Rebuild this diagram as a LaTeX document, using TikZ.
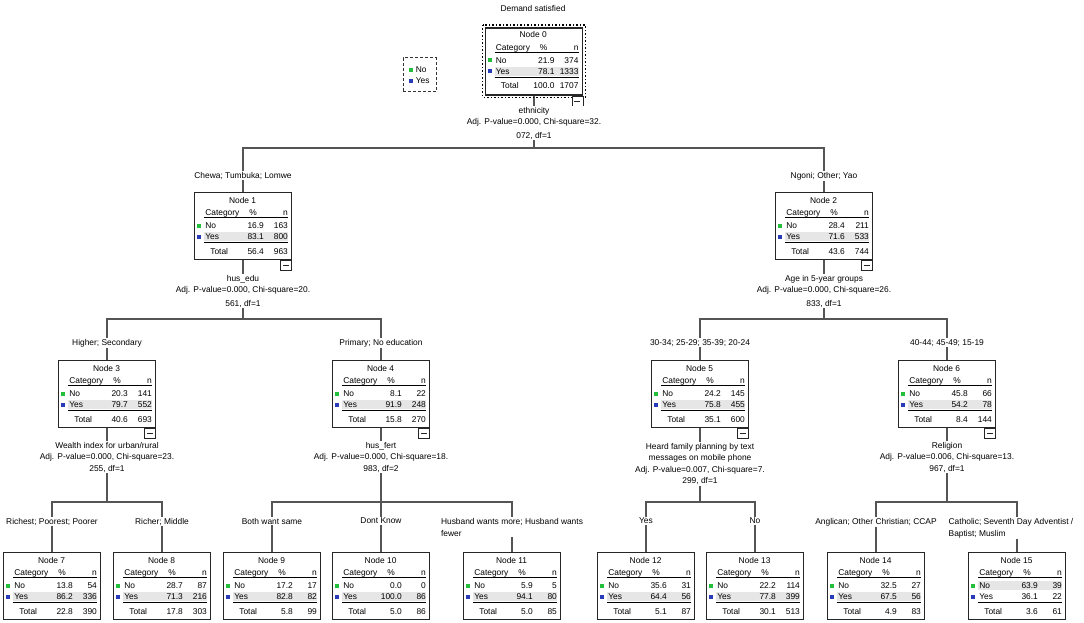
\documentclass[tikz,border=0pt]{standalone}
\usepackage{fontspec}
\setmainfont{Liberation Sans}
\usetikzlibrary{positioning}

\definecolor{catno}{RGB}{34,190,60}
\definecolor{catyes}{RGB}{40,60,185}
\definecolor{rowgray}{RGB}{230,230,230}
\definecolor{wiregray}{RGB}{85,85,85}

\pgfdeclarelayer{back}
\pgfsetlayers{back,main}

\def\hlno{29}
\def\hlyes{40}

\newcommand{\boxbody}[9]{%
  \begin{scope}[shift={(#1.north west)}]
    \fill[rowgray] (10,\csname hl#9\endcsname) rectangle ++(84,9);
    \node[cell] (#1-title) at (48.5,8) {Node #2};
    \node[cell, anchor=west] (#1-hc) at (11,20.5) {Category};
    \node[cell] (#1-hp) at (59,20.5) {\%};
    \node[cell, anchor=east] (#1-hn) at (94,20.5) {n};
    \draw[line width=0.8pt] (10,25.5) -- (94,25.5);
    \fill[catno] (3,31.5) rectangle ++(4,4);
    \node[cell, anchor=west] (#1-no) at (11,33.5) {No};
    \node[cell, anchor=east] (#1-nop) at (70,33.5) {#3};
    \node[cell, anchor=east] (#1-non) at (94,33.5) {#4};
    \fill[catyes] (3,42.5) rectangle ++(4,4);
    \node[cell, anchor=west] (#1-yes) at (11,44.5) {Yes};
    \node[cell, anchor=east] (#1-yesp) at (70,44.5) {#5};
    \node[cell, anchor=east] (#1-yesn) at (94,44.5) {#6};
    \draw[line width=1.5pt] (10,50.5) -- (94,50.5);
    \node[cell, anchor=west] (#1-tot) at (16,59) {Total};
    \node[cell, anchor=east] (#1-totp) at (70,59) {#7};
    \node[cell, anchor=east] (#1-totn) at (94,59) {#8};
  \end{scope}}

\newcommand{\collapse}[1]{\node[minus, anchor=north east] (#1m) at (#1.south east) {};}

\begin{document}
\begin{tikzpicture}
  [x=1pt, y=-1pt,
   font=\fontsize{8.4}{11.5}\selectfont,
   catbox/.style={draw=black!85, line width=0.8pt, fill=white, anchor=north,
     minimum width=97pt, minimum height=67pt, inner sep=0pt},
   cell/.style={inner sep=0pt, text height=6pt, text depth=0pt},
   minus/.style={draw=black!85, line width=0.8pt, fill=white, minimum width=11pt,
     minimum height=10pt, inner sep=0pt,
     path picture={\draw[line width=0.8pt] ([xshift=2.5pt]path picture bounding box.west)
       -- ([xshift=-2.5pt]path picture bounding box.east);}},
   split/.style={fill=white, inner sep=1pt, align=center, anchor=north},
   branch/.style={fill=white, inner sep=1pt, anchor=north},
   wire/.style={draw=wiregray, line width=1.3pt}]
  \useasboundingbox (0,0) rectangle (1084,623);

  \node (title) at (533,8) {Demand satisfied};
  \node[draw=black!80, line width=1pt, dash pattern=on 3pt off 2pt, minimum width=33pt,
    minimum height=34pt, inner sep=0pt, align=left, font=\fontsize{8.4}{11}\selectfont] (key) at (419.5,75)
    {\textcolor{catno}{\rule{4pt}{4pt}} No\\\textcolor{catyes}{\rule{4pt}{4pt}} Yes};

  \node[catbox, line width=1.6pt] (n0) at (534,27) {};
  \draw[dotted, line width=1.5pt] ([shift={(-2,-2)}]n0.north west) rectangle ([shift={(2,2)}]n0.south east);
  \boxbody{n0}{0}{21.9}{374}{78.1}{1333}{100.0}{1707}{yes}
  \collapse{n0}

  \node[catbox] (n1) at (243,192) {};
  \boxbody{n1}{1}{16.9}{163}{83.1}{800}{56.4}{963}{yes}
  \collapse{n1}
  \node[catbox] (n2) at (824,192) {};
  \boxbody{n2}{2}{28.4}{211}{71.6}{533}{43.6}{744}{yes}
  \collapse{n2}

  \node[catbox] (n3) at (107,360) {};
  \boxbody{n3}{3}{20.3}{141}{79.7}{552}{40.6}{693}{yes}
  \collapse{n3}
  \node[catbox] (n4) at (381,360) {};
  \boxbody{n4}{4}{8.1}{22}{91.9}{248}{15.8}{270}{yes}
  \collapse{n4}
  \node[catbox] (n5) at (700,360) {};
  \boxbody{n5}{5}{24.2}{145}{75.8}{455}{35.1}{600}{yes}
  \collapse{n5}
  \node[catbox] (n6) at (947,360) {};
  \boxbody{n6}{6}{45.8}{66}{54.2}{78}{8.4}{144}{yes}
  \collapse{n6}

  \node[catbox] (n7) at (52,552) {};
  \boxbody{n7}{7}{13.8}{54}{86.2}{336}{22.8}{390}{yes}
  \node[catbox] (n8) at (162,552) {};
  \boxbody{n8}{8}{28.7}{87}{71.3}{216}{17.8}{303}{yes}
  \node[catbox] (n9) at (272,552) {};
  \boxbody{n9}{9}{17.2}{17}{82.8}{82}{5.8}{99}{yes}
  \node[catbox] (n10) at (381,552) {};
  \boxbody{n10}{10}{0.0}{0}{100.0}{86}{5.0}{86}{yes}
  \node[catbox] (n11) at (512,552) {};
  \boxbody{n11}{11}{5.9}{5}{94.1}{80}{5.0}{85}{yes}
  \node[catbox] (n12) at (646,552) {};
  \boxbody{n12}{12}{35.6}{31}{64.4}{56}{5.1}{87}{yes}
  \node[catbox] (n13) at (755,552) {};
  \boxbody{n13}{13}{22.2}{114}{77.8}{399}{30.1}{513}{yes}
  \node[catbox] (n14) at (876,552) {};
  \boxbody{n14}{14}{32.5}{27}{67.5}{56}{4.9}{83}{yes}
  \node[catbox] (n15) at (1017,552) {};
  \boxbody{n15}{15}{63.9}{39}{36.1}{22}{3.6}{61}{no}

  \node[split] (s0) at (534,106) {ethnicity\\Adj. P-value=0.000, Chi-square=32.\\[2pt]072, df=1};
  \node[split] (s1) at (243,274) {hus\_edu\\Adj. P-value=0.000, Chi-square=20.\\[2pt]561, df=1};
  \node[split] (s2) at (824,274) {Age in 5-year groups\\Adj. P-value=0.000, Chi-square=26.\\[2pt]833, df=1};
  \node[split] (s3) at (107,441) {Wealth index for urban/rural\\Adj. P-value=0.000, Chi-square=23.\\255, df=1};
  \node[split] (s4) at (381,441) {hus\_fert\\Adj. P-value=0.000, Chi-square=18.\\983, df=2};
  \node[split] (s5) at (700,442) {Heard family planning by text\\messages on mobile phone\\Adj. P-value=0.007, Chi-square=7.\\299, df=1};
  \node[split] (s6) at (947,441) {Religion\\Adj. P-value=0.006, Chi-square=13.\\967, df=1};

  \node[branch] (b1) at (243,171) {Chewa; Tumbuka; Lomwe};
  \node[branch] (b2) at (824,171) {Ngoni; Other; Yao};
  \node[branch] (b3) at (107,338) {Higher; Secondary};
  \node[branch] (b4) at (381,338) {Primary; No education};
  \node[branch] (b5) at (700,338) {30-34; 25-29; 35-39; 20-24};
  \node[branch] (b6) at (947,338) {40-44; 45-49; 15-19};
  \node[branch] (b7) at (52,517) {Richest; Poorest; Poorer};
  \node[branch] (b8) at (162,517) {Richer; Middle};
  \node[branch] (b9) at (272,517) {Both want same};
  \node[branch] (b10) at (381,517) {Dont Know};
  \node[branch, align=left, font=\fontsize{8.4}{12}\selectfont] (b11) at (512,517) {Husband wants more; Husband wants\\fewer};
  \node[branch] (b12) at (646,517) {Yes};
  \node[branch] (b13) at (755,517) {No};
  \node[branch] (b14) at (876,517) {Anglican; Other Christian; CCAP};
  \node[branch, align=left, font=\fontsize{8.4}{12}\selectfont] (b15) at (1011,517) {Catholic; Seventh Day Adventist /\\Baptist; Muslim};

  \coordinate (j0) at (534,148);
  \coordinate (j1) at (243,319);
  \coordinate (j2) at (824,319);
  \coordinate (j3) at (107,502);
  \coordinate (j4) at (381,502);
  \coordinate (j5) at (700,502);
  \coordinate (j6) at (947,502);

  \begin{pgfonlayer}{back}
    \draw[wire] (n0) -- (j0) -| (n1);
    \draw[wire] (j0) -| (n2);
    \draw[wire] (n1) -- (j1) -| (n3);
    \draw[wire] (j1) -| (n4);
    \draw[wire] (n2) -- (j2) -| (n5);
    \draw[wire] (j2) -| (n6);
    \draw[wire] (n3) -- (j3) -| (n7);
    \draw[wire] (j3) -| (n8);
    \draw[wire] (n4) -- (j4) -| (n9);
    \draw[wire] (j4) -- (n10);
    \draw[wire] (j4) -| (n11);
    \draw[wire] (n5) -- (j5) -| (n12);
    \draw[wire] (j5) -| (n13);
    \draw[wire] (n6) -- (j6) -| (n14);
    \draw[wire] (j6) -| (n15);
  \end{pgfonlayer}
\end{tikzpicture}
\end{document}
